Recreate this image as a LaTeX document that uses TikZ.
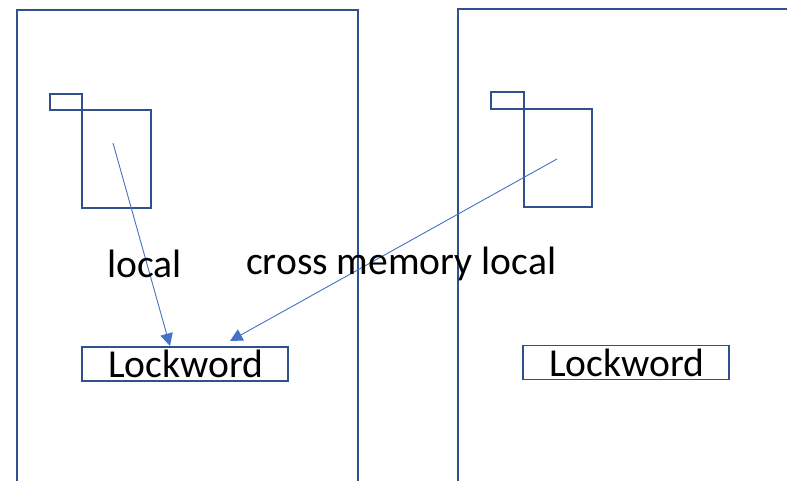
\documentclass[tikz,border=0pt]{standalone}
\usepackage{fontspec}
\setmainfont{Carlito}
\usetikzlibrary{arrows.meta}
\definecolor{outline}{HTML}{2F528F}
\definecolor{link}{HTML}{4472C4}
\tikzset{
  frame/.style={draw=outline, line width=2pt},
  box/.style={draw=outline, line width=1.8pt},
  wordbox/.style={draw=outline, line width=1.5pt, minimum width=206pt, minimum height=34pt, inner sep=0pt},
  pointer/.style={draw=link, line width=0.9pt, -{Triangle[length=12.5pt,width=12.5pt]}},
  label/.style={font=\fontsize{39.6pt}{44pt}\selectfont, inner sep=0pt, anchor=base west}
}
\begin{document}
\begin{tikzpicture}[x=1pt,y=-1pt]
  \useasboundingbox (0,0) rectangle (787,480);
  \clip (0,0) rectangle (787,480);
  \fill[white] (0,0) rectangle (787,480);
  % two address spaces
  \draw[frame] (17,10) rectangle (358,495);
  \draw[frame] (458,9) rectangle (800,495);
  % left address space: small tag and block
  \draw[box] (50,94) rectangle (82,110);
  \draw[box] (82,110) rectangle (151,208);
  % right address space: small tag and block
  \draw[box] (491,92) rectangle (524,109);
  \draw[box] (524,109) rectangle (592,207);
  % lockwords
  \node[wordbox] (lw1) at (185,364) {};
  \node[wordbox] (lw2) at (626,362.5) {};
  \node[label] at (108,377) {Lockword};
  \node[label] at (549,376) {Lockword};
  % pointer sources and targets
  \coordinate (src1) at (113,143);
  \coordinate (src2) at (557,159);
  \coordinate (tip1) at (170,346);
  \coordinate (tip2) at (230,341);
  \draw[pointer] (src1) -- (tip1);
  \draw[pointer] (src2) -- (tip2);
  % captions
  \node[label] (cap1) at (107,277) {local};
  \node[label] (cap2) at (246,274) {cross memory local};
\end{tikzpicture}
\end{document}
